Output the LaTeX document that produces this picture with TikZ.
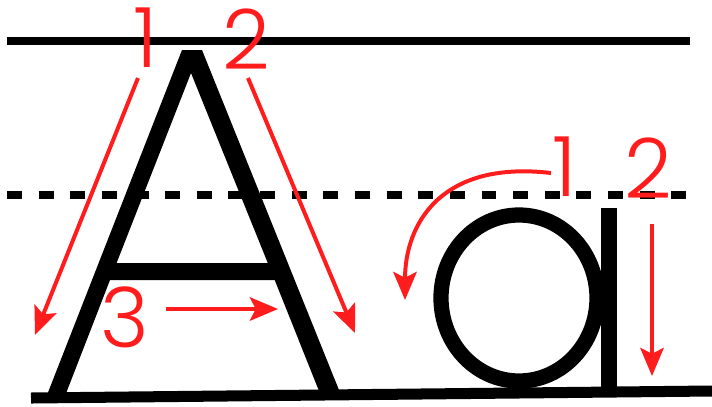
\documentclass[tikz,border=0pt]{standalone}
\usepackage{fontspec}
\setmainfont{Poppins}[UprightFont=* Light]
\usetikzlibrary{arrows.meta}
\definecolor{strokered}{RGB}{255,28,28}
\tikzset{
  guide/.style={line width=6.8pt},
  order/.style={strokered,line width=3.4pt},
  digit/.style={text=strokered,inner sep=0pt,font=\fontsize{71}{71}\selectfont}
}
\begin{document}
\begin{tikzpicture}[x=0.03cm,y=-0.03cm,>={Stealth[length=24pt,width=20pt,inset=5pt]}]
  \useasboundingbox (0,0) rectangle (712,406);
  % writing lines
  \draw[guide] (7,41) -- (690,41);
  \draw[guide,dash pattern=on 12.8pt off 14.2pt] (7,195) -- (690,195);
  % capital A
  \fill[black,even odd rule] (47,395) -- (182,50) -- (202,50) -- (341,395) -- cycle
    (191,73) -- (116.6,263) -- (267.8,263) -- cycle
    (110,280) -- (274.7,280) -- (321,396) -- (65,396) -- cycle;
  % small a
  \draw[line width=13pt] (519,298) ellipse (78 and 83);
  \fill (601,208) rectangle (617,396);
  \draw[line width=9.4pt] (31,398) -- (712,391);
  % stroke order of A
  \node[digit] (A1) at (146,38) {1};
  \node[digit] (A2) at (246,39) {2};
  \node[digit] (A3) at (125,317) {3};
  \coordinate (A1s) at (138,78);
  \coordinate (A1e) at (35,335);
  \coordinate (A2s) at (248,78);
  \coordinate (A2e) at (355,333);
  \coordinate (A3s) at (166,309);
  \coordinate (A3e) at (278,309);
  \draw[order,->] (A1s) -- (A1e);
  \draw[order,->] (A2s) -- (A2e);
  \draw[order,->] (A3s) -- (A3e);
  % stroke order of a
  \node[digit] (a1) at (565,167) {1};
  \node[digit] (a2) at (648,168) {2};
  \coordinate (a1s) at (551,173);
  \coordinate (a1e) at (405,300);
  \coordinate (a2s) at (652,224);
  \coordinate (a2e) at (652,376);
  \draw[order,->] (a1s) .. controls (440,160) and (405,225) .. (a1e);
  \draw[order,->] (a2s) -- (a2e);
\end{tikzpicture}
\end{document}
